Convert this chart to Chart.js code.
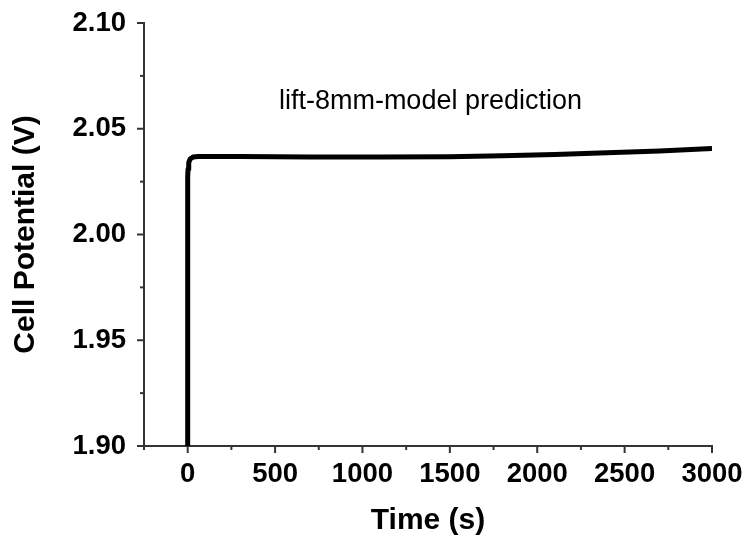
<!DOCTYPE html>
<html>
<head>
<meta charset="utf-8">
<script src="https://cdn.jsdelivr.net/npm/chart.js@4/dist/chart.umd.min.js"></script>
<style>
  html, body { margin: 0; padding: 0; background: #fff; }
  #chart { display: block; }
</style>
</head>
<body>
<canvas id="chart" width="748" height="539"></canvas>
<script>
// simulated cell potential vs time
var timeSec = [0, 0, 2, 6, 14, 30, 60, 300, 700, 1100, 1500, 1800, 2100, 2400, 2700, 3000];
var potentialV = [1.85, 2.027, 2.031, 2.034, 2.0357, 2.0366, 2.0369, 2.0369, 2.0367, 2.0366, 2.0368, 2.0372, 2.0378, 2.0386, 2.0395, 2.0407];

var xTicks = [0, 500, 1000, 1500, 2000, 2500, 3000];
var xMinorTicks = [-250, 250, 750, 1250, 1750, 2250, 2750];
var yTicks = [1.90, 1.95, 2.00, 2.05, 2.10];
var yMinorTicks = [1.925, 1.975, 2.025, 2.075];

var noteText = 'lift-8mm-model prediction';
var noteAt = { x: 1389, y: 2.0593 };

var AXIS_COLOR = '#333';
var FONT = "'Liberation Sans', Arial, sans-serif";

var points = [];
for (var i = 0; i < timeSec.length; ++i) {
    points.push({ x: timeSec[i], y: potentialV[i] });
}

// tick marks pointing outward, long for majors and short for minors
var tickMarks = {
    id: 'tickMarks',
    afterDraw: function(chart) {
        var ctx = chart.ctx;
        var xs = chart.scales.x;
        var ys = chart.scales.y;
        var area = chart.chartArea;
        ctx.save();
        ctx.strokeStyle = AXIS_COLOR;

        var drawX = function(vals, len, w) {
            ctx.lineWidth = w;
            vals.forEach(function(v) {
                var px = xs.getPixelForValue(v);
                ctx.beginPath();
                ctx.moveTo(px, area.bottom);
                ctx.lineTo(px, area.bottom + len);
                ctx.stroke();
            });
        };
        var drawY = function(vals, len, w) {
            ctx.lineWidth = w;
            vals.forEach(function(v) {
                var py = ys.getPixelForValue(v);
                ctx.beginPath();
                ctx.moveTo(area.left, py);
                ctx.lineTo(area.left - len, py);
                ctx.stroke();
            });
        };
        drawX(xTicks, 7, 2);
        drawX(xMinorTicks, 4, 2);
        drawY(yTicks, 7, 2);
        drawY(yMinorTicks, 4, 2);

        // annotation inside the plot
        ctx.fillStyle = '#000';
        ctx.font = '27px ' + FONT;
        ctx.textAlign = 'center';
        ctx.textBaseline = 'alphabetic';
        ctx.fillText(noteText, xs.getPixelForValue(noteAt.x), ys.getPixelForValue(noteAt.y));
        ctx.restore();
    }
};

new Chart(document.getElementById('chart'), {
    type: 'line',
    data: {
        datasets: [{
            data: points,
            borderColor: '#000',
            borderWidth: 5,
            borderCapStyle: 'butt',
            borderJoinStyle: 'round',
            pointRadius: 0,
            tension: 0,
            fill: false
        }]
    },
    options: {
        responsive: false,
        animation: false,
        layout: { padding: { top: 23, right: 36, left: 0, bottom: 0 } },
        plugins: {
            legend: { display: false },
            tooltip: { enabled: false }
        },
        scales: {
            x: {
                type: 'linear',
                min: -250,
                max: 3000,
                afterBuildTicks: function(scale) {
                    scale.ticks = xTicks.map(function(v) { return { value: v }; });
                },
                afterFit: function(scale) {
                    scale.height = 93;
                    scale.paddingLeft = 0;
                    scale.paddingRight = 0;
                },
                grid: { display: false, drawTicks: false },
                border: { display: true, color: AXIS_COLOR, width: 2 },
                ticks: {
                    padding: 12,
                    color: '#000',
                    maxRotation: 0,
                    font: { family: FONT, size: 27.5, weight: 'bold' },
                    callback: function(v) { return v; }
                },
                title: {
                    display: true,
                    text: 'Time (s)',
                    color: '#000',
                    font: { family: FONT, size: 30, weight: 'bold' },
                    padding: { top: 0, bottom: 0 }
                }
            },
            y: {
                type: 'linear',
                min: 1.90,
                max: 2.10,
                afterBuildTicks: function(scale) {
                    scale.ticks = yTicks.map(function(v) { return { value: v }; });
                },
                afterFit: function(scale) {
                    scale.width = 144;
                    scale.paddingTop = 0;
                    scale.paddingBottom = 0;
                },
                grid: { display: false, drawTicks: false },
                border: { display: true, color: AXIS_COLOR, width: 2 },
                ticks: {
                    padding: 18,
                    color: '#000',
                    font: { family: FONT, size: 27.5, weight: 'bold' },
                    callback: function(v) { return v.toFixed(2); }
                },
                title: {
                    display: true,
                    text: 'Cell Potential (V)',
                    color: '#000',
                    font: { family: FONT, size: 30, weight: 'bold' },
                    padding: { top: 8, bottom: 0 }
                }
            }
        }
    },
    plugins: [tickMarks]
});
</script>
</body>
</html>
